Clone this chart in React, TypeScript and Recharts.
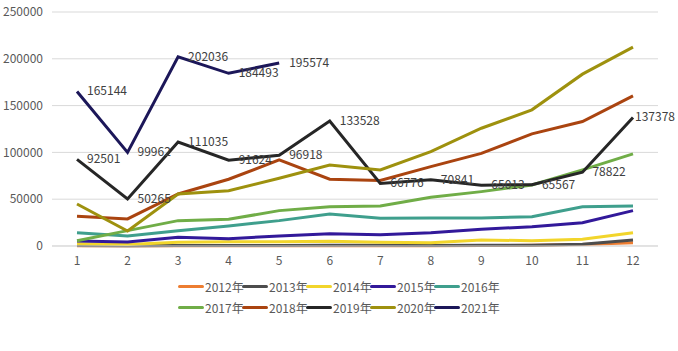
import React from "react";
import { LineChart, Line, XAxis, YAxis, CartesianGrid, LabelList } from "recharts";

const months = ["1", "2", "3", "4", "5", "6", "7", "8", "9", "10", "11", "12"];
const yTicks = [0, 50000, 100000, 150000, 200000, 250000];

const s2012 = [300, 200, 300, 300, 400, 400, 400, 400, 500, 700, 1500, 3500];
const s2013 = [500, 400, 600, 600, 600, 700, 700, 600, 700, 800, 1800, 6400];
const s2014 = [2500, 1500, 4000, 4500, 4500, 5000, 4000, 3600, 6400, 5700, 7100, 14200];
const s2015 = [5300, 4300, 9300, 7800, 10700, 13200, 12100, 14200, 17800, 20600, 24900, 37800];
const s2016 = [14200, 10700, 16400, 21400, 27100, 34200, 29600, 29900, 29900, 31300, 42000, 42800];
const s2017 = [5700, 16400, 27100, 28500, 37800, 42000, 42800, 52000, 58100, 65200, 81300, 98400];
const s2018 = [31700, 28900, 55600, 71300, 92000, 71300, 70000, 84800, 99000, 119800, 133000, 160400];
const s2019 = [92501, 50265, 111035, 91624, 96918, 133528, 66776, 70841, 65013, 65567, 78822, 137378];
const s2020 = [44900, 16000, 55600, 59100, 72400, 86600, 81300, 100900, 125800, 145500, 183600, 212500];
const s2021 = [165144, 99962, 202036, 184493, 195574, null, null, null, null, null, null, null];

const series = [
  { key: "y2012", name: "2012年", values: s2012, color: "#ED7D31" },
  { key: "y2013", name: "2013年", values: s2013, color: "#4D4D4D" },
  { key: "y2014", name: "2014年", values: s2014, color: "#F2D52B" },
  { key: "y2015", name: "2015年", values: s2015, color: "#32199A" },
  { key: "y2016", name: "2016年", values: s2016, color: "#3F9F8D" },
  { key: "y2017", name: "2017年", values: s2017, color: "#70AD47" },
  { key: "y2018", name: "2018年", values: s2018, color: "#AA4410" },
  { key: "y2019", name: "2019年", values: s2019, color: "#262626" },
  { key: "y2020", name: "2020年", values: s2020, color: "#9E910E" },
  { key: "y2021", name: "2021年", values: s2021, color: "#1C1759" },
];

const data = months.map((m, i) => {
  const row: any = { month: m };
  series.forEach((s) => {
    row[s.key] = s.values[i];
  });
  return row;
});

const font = "'Noto Sans CJK SC', 'Open Sans', sans-serif";

const renderLabel = (props: any) => {
  const { x, y, value, index } = props;
  if (value == null) return null;
  const dx = index === 11 ? 2 : 10;
  return (
    <text x={x + dx} y={y} dy={4} fontSize={12} fill="#404040" fontFamily={font}>
      {value}
    </text>
  );
};

export default function App() {
  return (
    <div style={{ position: "absolute", left: 0, top: 0, width: 678, height: 351, background: "#fff", fontFamily: font }}>
      <LineChart
        width={678}
        height={351}
        data={data}
        margin={{ top: 12, right: 20, left: 0, bottom: 85 }}
      >
        <CartesianGrid vertical={false} stroke="#d9d9d9" />
        <XAxis
          dataKey="month"
          height={20}
          padding={{ left: 25, right: 25 }}
          axisLine={{ stroke: "#d9d9d9" }}
          tickLine={false}
          tickSize={0}
          tickMargin={10}
          tick={{ fill: "#595959", fontSize: 12, fontFamily: font }}
        />
        <YAxis
          width={52}
          domain={[0, 250000]}
          ticks={yTicks}
          axisLine={false}
          tickLine={false}
          tickSize={0}
          tickMargin={9}
          tick={{ fill: "#595959", fontSize: 12, fontFamily: font }}
        />
        {series.map((s) => (
          <Line
            key={s.key}
            dataKey={s.key}
            name={s.name}
            stroke={s.color}
            strokeWidth={3}
            dot={false}
            activeDot={false}
            isAnimationActive={false}
          >
            {s.key === "y2019" || s.key === "y2021" ? (
              <LabelList dataKey={s.key} content={renderLabel} />
            ) : null}
          </Line>
        ))}
      </LineChart>
      <div style={{ position: "absolute", left: 178, top: 276, width: 360 }}>
        {[series.slice(0, 5), series.slice(5)].map((row, r) => (
          <div key={r} style={{ display: "flex", height: 21 }}>
            {row.map((s) => (
              <div
                key={s.key}
                style={{ display: "flex", alignItems: "center", width: 64, flexShrink: 0, whiteSpace: "nowrap" }}
              >
                <span
                  style={{ display: "inline-block", width: 26, height: 3, background: s.color, borderRadius: 2, flexShrink: 0 }}
                />
                <span style={{ fontSize: 12, color: "#595959", marginLeft: 1, lineHeight: "14px" }}>{s.name}</span>
              </div>
            ))}
          </div>
        ))}
      </div>
    </div>
  );
}
